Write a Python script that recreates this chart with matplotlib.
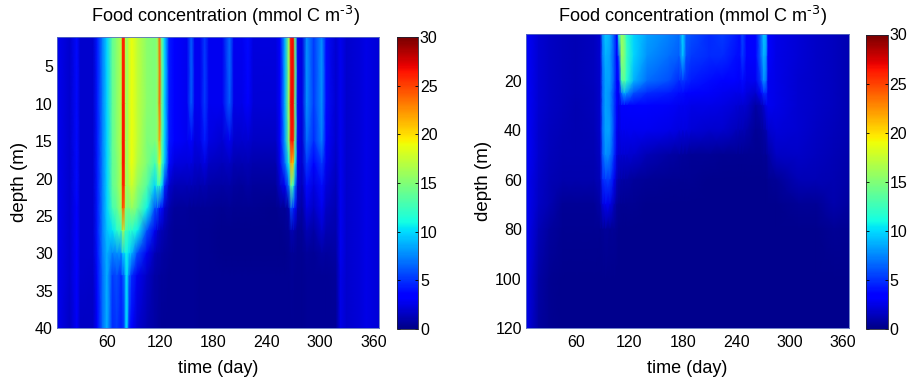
import numpy as np
import matplotlib
matplotlib.use("Agg")
import matplotlib.pyplot as plt

plt.rcParams['font.family'] = ['Liberation Sans', 'DejaVu Sans']
plt.rcParams['mathtext.default'] = 'regular'

title_text = 'Food concentration (mmol C m$^{\\text{-3}}$)'
xlabel_text = 'time (day)'
ylabel_text = 'depth (m)'
x_ticks = [60, 120, 180, 240, 300, 360]
left_y_ticks = [5, 10, 15, 20, 25, 30, 35, 40]
right_y_ticks = [20, 40, 60, 80, 100, 120]
cbar_ticks = [0, 5, 10, 15, 20, 25, 30]

left_depths = [1, 10, 15, 18, 21, 24, 27, 30, 33, 40]
left_times = [3, 18, 26, 30, 44, 49, 55, 60, 66, 71, 76, 77.5, 79.5, 81, 82.5, 85, 88, 94, 105, 114,
              117, 119, 122, 125, 130, 136, 150, 155, 159, 165, 170, 175, 190, 198, 203, 212, 219,
              225, 250, 255, 260.6, 264.8, 267.3, 270, 272, 275, 280, 285, 293, 302, 307, 318, 323,
              330, 345, 352, 367]
# one profile per time, values at left_depths
left_food = [
    [3, 3, 3, 3, 3, 3, 3, 3, 3, 3],
    [2, 2, 2, 2, 2, 2, 2, 2, 2, 1.8],
    [4, 4, 4, 4, 4, 3.8, 3.8, 3.6, 3.5, 3.2],
    [2, 2, 2, 2, 2, 2, 2, 2, 2, 1.8],
    [2, 2, 2, 2, 2, 2, 2, 2, 1.9, 1.8],
    [4.5, 4.5, 4.5, 4.5, 4.5, 4.5, 4.5, 4.3, 4, 3.5],
    [7.5, 7.5, 7.5, 7.5, 7.5, 7.5, 7.5, 7.3, 7, 7],
    [10, 10, 10, 10, 10, 10, 9.5, 9, 9, 9],
    [14, 14, 14, 14, 14, 13, 10.5, 7.5, 5.5, 5],
    [15.5, 15.5, 15.5, 15, 15, 14, 12, 8, 6, 5.5],
    [17, 17, 17, 17, 17, 16.5, 13, 8, 5, 4.5],
    [26, 26.5, 26.5, 26.5, 26, 24.5, 17, 10, 6, 4.5],
    [26, 26.5, 26.5, 26.5, 26, 23.5, 16, 10, 7, 6],
    [17, 17, 17, 17, 17, 16, 13, 11, 9, 9],
    [16, 16, 16, 16, 16, 15, 13, 11, 10.5, 10],
    [18, 18, 18, 18, 17, 15, 12, 10, 7, 4.5],
    [19, 19, 19, 19, 18, 16, 12, 9, 5, 3.5],
    [17.5, 17.5, 17.5, 17, 16, 14.5, 11, 6, 3, 2.2],
    [15.5, 15.5, 15, 15, 13.5, 11, 6, 3, 1.8, 1.3],
    [15, 15, 15, 13, 10, 6, 3, 1.5, 1, 1],
    [16, 16, 16, 15, 12, 6, 2.2, 1.2, 1, 0.9],
    [24, 24, 22, 19, 12, 4.5, 1.7, 1.2, 0.9, 0.8],
    [14, 14, 13.5, 13, 10, 4, 1.5, 1, 0.8, 0.7],
    [10, 10, 10, 9.5, 5, 2, 1.2, 0.9, 0.8, 0.7],
    [4.5, 4.5, 4.5, 4, 2, 1.2, 0.9, 0.8, 0.7, 0.6],
    [3.5, 3.5, 3.3, 2.5, 1.5, 0.8, 0.7, 0.7, 0.6, 0.6],
    [3, 3, 3, 2.4, 1.5, 0.8, 0.6, 0.6, 0.6, 0.6],
    [6.5, 6.5, 3.8, 2.5, 1.5, 0.7, 0.6, 0.6, 0.6, 0.6],
    [3, 3, 2.5, 2, 1.3, 0.7, 0.6, 0.6, 0.6, 0.6],
    [3, 3, 2.8, 2, 1.2, 0.6, 0.5, 0.5, 0.5, 0.5],
    [5.5, 5.5, 4.5, 2.6, 1.4, 0.7, 0.5, 0.5, 0.5, 0.5],
    [3, 3, 2.6, 1.8, 1.1, 0.6, 0.5, 0.5, 0.5, 0.5],
    [3, 3, 2.2, 1.6, 1, 0.5, 0.45, 0.4, 0.5, 0.5],
    [7, 6.5, 3, 1.8, 1.1, 0.6, 0.4, 0.4, 0.5, 0.5],
    [3, 2.8, 2, 1.4, 0.9, 0.5, 0.4, 0.4, 0.5, 0.5],
    [3, 2.8, 2, 1.3, 0.8, 0.5, 0.4, 0.4, 0.5, 0.5],
    [4, 3.5, 2.2, 1.5, 1, 0.5, 0.4, 0.4, 0.5, 0.5],
    [2.5, 2.3, 1.8, 1.2, 0.8, 0.5, 0.4, 0.4, 0.5, 0.5],
    [2.5, 2.3, 1.8, 1.2, 0.8, 0.4, 0.4, 0.4, 0.5, 0.5],
    [3.5, 3.5, 3.5, 3, 2, 0.6, 0.45, 0.45, 0.5, 0.5],
    [9, 9, 8.5, 7, 3, 0.7, 0.5, 0.45, 0.5, 0.5],
    [16, 16, 15, 11, 7, 1.2, 0.6, 0.5, 0.5, 0.5],
    [26.5, 27, 26.5, 22, 14, 6, 1.3, 0.7, 0.6, 0.5],
    [27, 27, 26.5, 21, 12, 5, 1.3, 0.7, 0.6, 0.5],
    [14, 14, 14, 11, 7, 4, 1, 0.6, 0.5, 0.5],
    [3, 3, 3, 2.6, 2, 1.3, 0.7, 0.5, 0.5, 0.5],
    [2.5, 2.5, 2.2, 2, 1.6, 1, 0.7, 0.5, 0.5, 0.5],
    [8, 8, 7, 5.5, 4, 2.6, 1.5, 0.8, 0.6, 0.6],
    [5.5, 5.5, 5, 3.7, 2.5, 1.8, 1, 0.7, 0.6, 0.6],
    [8, 8, 7.5, 5.5, 4, 3, 2, 1, 0.7, 0.6],
    [4, 4, 3.8, 3, 2.4, 1.8, 1.3, 0.9, 0.7, 0.6],
    [2.2, 2.2, 2, 1.8, 1.6, 1.4, 1.2, 1, 0.8, 0.7],
    [3, 3, 3, 3, 3, 3, 3, 3, 2.8, 2.7],
    [2, 2, 2, 2, 2, 2, 2, 2, 2, 2],
    [2.4, 2.4, 2.4, 2.4, 2.4, 2.4, 2.4, 2.4, 2.4, 2.4],
    [2.7, 2.7, 2.7, 2.7, 2.7, 2.7, 2.7, 2.7, 2.7, 2.7],
    [2.3, 2.3, 2.3, 2.3, 2.3, 2.3, 2.3, 2.3, 2.3, 2.3],
]

right_depths = [1, 10, 20, 25, 30, 40, 50, 60, 70, 80, 100, 120]
right_times = [3, 8, 18, 30, 45, 60, 80, 87, 90, 93, 98, 103, 106, 108, 111, 114, 117, 125, 140, 165,
               176, 180, 184, 190, 210, 225, 240, 244, 247, 252, 262, 268, 271, 274, 276, 285, 310,
               330, 350, 367]
# one profile per time, values at right_depths
right_food = [
    [3.5, 3.5, 3.5, 3.5, 3.5, 3.5, 3.5, 3.5, 3.5, 3.3, 3.2, 3],
    [3, 3, 3, 3, 3, 3, 3, 2.8, 2.8, 2.6, 2.3, 2.2],
    [2.2, 2.2, 2.2, 2.2, 2.2, 2.1, 2, 1.9, 1.8, 1.5, 1, 0.9],
    [1.8, 1.8, 1.8, 1.8, 1.8, 1.7, 1.6, 1.5, 1.3, 0.9, 0.55, 0.5],
    [1.6, 1.6, 1.6, 1.6, 1.6, 1.5, 1.4, 1.2, 0.7, 0.5, 0.45, 0.45],
    [1.5, 1.5, 1.5, 1.5, 1.4, 1.4, 1.3, 1.2, 0.7, 0.5, 0.45, 0.45],
    [1.7, 1.7, 1.7, 1.6, 1.6, 1.5, 1.4, 1.2, 0.7, 0.5, 0.4, 0.4],
    [2.2, 2.2, 2.1, 2, 2, 2, 1.8, 1.6, 1.1, 0.5, 0.4, 0.4],
    [8, 7.5, 7, 7, 7, 7, 6.5, 5, 2.5, 0.7, 0.4, 0.4],
    [9.5, 9, 8.5, 8.5, 8.5, 8.5, 8, 5.5, 3, 0.8, 0.4, 0.4],
    [9, 8.5, 8.5, 8, 8, 8.5, 7.5, 5.5, 2.8, 0.7, 0.4, 0.4],
    [6, 6, 6, 5.5, 5.5, 5.5, 5, 3, 1.5, 0.6, 0.4, 0.4],
    [3.5, 3.5, 3.5, 3.3, 3.3, 3, 2.5, 1.6, 0.8, 0.5, 0.4, 0.4],
    [12, 6, 3.5, 3, 2.8, 2.6, 2.2, 1.2, 0.6, 0.45, 0.4, 0.4],
    [16, 16, 13, 7, 3.5, 3, 2.2, 1.1, 0.5, 0.4, 0.4, 0.4],
    [15, 15, 14, 9, 3.5, 3, 2.2, 1, 0.5, 0.4, 0.4, 0.4],
    [12, 12.5, 12, 8, 3.7, 3, 2.2, 1, 0.5, 0.4, 0.4, 0.4],
    [10, 10, 9, 6, 3.5, 3, 2, 0.8, 0.5, 0.4, 0.4, 0.4],
    [8.5, 8, 7, 5, 3.5, 3, 1.5, 0.6, 0.45, 0.4, 0.4, 0.4],
    [7.5, 7, 6, 4.5, 3.2, 2.7, 1, 0.5, 0.45, 0.4, 0.4, 0.4],
    [7, 6.5, 5, 4, 3, 2.5, 0.9, 0.5, 0.45, 0.4, 0.4, 0.4],
    [10, 9.5, 5.5, 4, 3, 2.5, 0.8, 0.5, 0.45, 0.4, 0.4, 0.4],
    [6.5, 6, 5, 3.8, 3, 2.5, 0.8, 0.5, 0.45, 0.4, 0.4, 0.4],
    [6, 5.5, 4.5, 3.5, 2.8, 2.3, 0.7, 0.5, 0.45, 0.4, 0.4, 0.4],
    [5, 5, 4, 3.2, 2.8, 2, 0.6, 0.45, 0.45, 0.4, 0.4, 0.4],
    [5.5, 5, 3.8, 3, 2.6, 2, 0.55, 0.45, 0.45, 0.4, 0.4, 0.4],
    [4.5, 4.2, 3.4, 2.8, 2.3, 1.6, 0.55, 0.45, 0.45, 0.4, 0.4, 0.4],
    [4, 4, 3.2, 2.7, 2.2, 1.5, 0.55, 0.45, 0.45, 0.4, 0.4, 0.4],
    [5.8, 5.5, 4, 3, 2.2, 1.5, 0.55, 0.45, 0.45, 0.4, 0.4, 0.4],
    [3.5, 3.5, 3, 2.5, 2, 1.2, 0.5, 0.45, 0.45, 0.4, 0.4, 0.4],
    [3.5, 3.5, 3, 2, 1, 0.7, 0.5, 0.45, 0.45, 0.4, 0.4, 0.4],
    [7, 7, 5.5, 3.5, 1.5, 0.8, 0.55, 0.45, 0.45, 0.4, 0.4, 0.4],
    [9.5, 9, 8, 5, 2, 1, 0.6, 0.45, 0.45, 0.4, 0.4, 0.4],
    [9, 8, 7, 5, 3, 1.4, 0.65, 0.45, 0.45, 0.4, 0.4, 0.4],
    [3.5, 3.5, 3, 3, 3, 2, 1, 0.5, 0.45, 0.4, 0.4, 0.4],
    [2.8, 2.8, 2.7, 2.7, 2.7, 2.4, 1.8, 0.6, 0.45, 0.4, 0.4, 0.4],
    [2.3, 2.3, 2.2, 2.2, 2.2, 2.2, 1.9, 1.5, 0.6, 0.45, 0.4, 0.4],
    [1.9, 1.9, 1.9, 1.9, 1.9, 1.8, 1.7, 1.5, 0.7, 0.45, 0.4, 0.4],
    [1.7, 1.7, 1.7, 1.7, 1.7, 1.6, 1.5, 1.4, 1.2, 0.6, 0.4, 0.4],
    [1.4, 1.4, 1.4, 1.4, 1.4, 1.3, 1.2, 1.1, 0.9, 0.5, 0.4, 0.4],
]

W, H = 912, 383
fig = plt.figure(figsize=(W / 100, H / 100), dpi=100, facecolor='white')


def box(x0, y0, x1, y1):
    return [x0 / W, 1 - y1 / H, (x1 - x0) / W, (y1 - y0) / H]


def panel(ax_box, cax_box, times, depths, food, yticks, ylim, title_x, ylabel_x):
    ax = fig.add_axes(box(*ax_box))
    mesh = ax.pcolormesh(times, depths, np.array(food).T, shading='gouraud',
                         cmap='jet', vmin=0, vmax=30, rasterized=True)
    ax.set_xlim(3.6, 367)
    ax.set_ylim(*ylim)
    ax.set_xticks(x_ticks)
    ax.set_yticks(yticks)
    ax.tick_params(length=0, pad=3, labelsize=11.5)
    ax.tick_params(axis='x', pad=5)
    ax.set_xlabel(xlabel_text, fontsize=13, labelpad=7)
    fig.text(ylabel_x / W, 1 - (ax_box[1] + ax_box[3]) / 2 / H, ylabel_text, fontsize=13.5,
             rotation=90, ha='center', va='center')
    for s in ax.spines.values():
        s.set_color('#5a6fc0')
        s.set_linewidth(0.6)
    fig.text(title_x / W, 1 - 16 / H, title_text, fontsize=13.1, ha='center', va='center')
    cax = fig.add_axes(box(*cax_box))
    cb = fig.colorbar(mesh, cax=cax, ticks=cbar_ticks)
    cb.solids.set_edgecolor('face')
    cb.outline.set_edgecolor('#223')
    cb.outline.set_linewidth(0.6)
    cax.tick_params(direction='in', left=True, right=True, length=2, width=0.6,
                    pad=1, labelsize=11.5)
    return ax


panel((57, 36.5, 379.5, 328), (397, 37, 418.5, 329), left_times, left_depths, left_food,
      left_y_ticks, (40, 1), 225.5, 20)
panel((526, 34, 849, 328), (866, 34.5, 888, 329), right_times, right_depths, right_food,
      right_y_ticks, (120, 1), 693, 484)

fig.savefig('out.png', dpi=100)
